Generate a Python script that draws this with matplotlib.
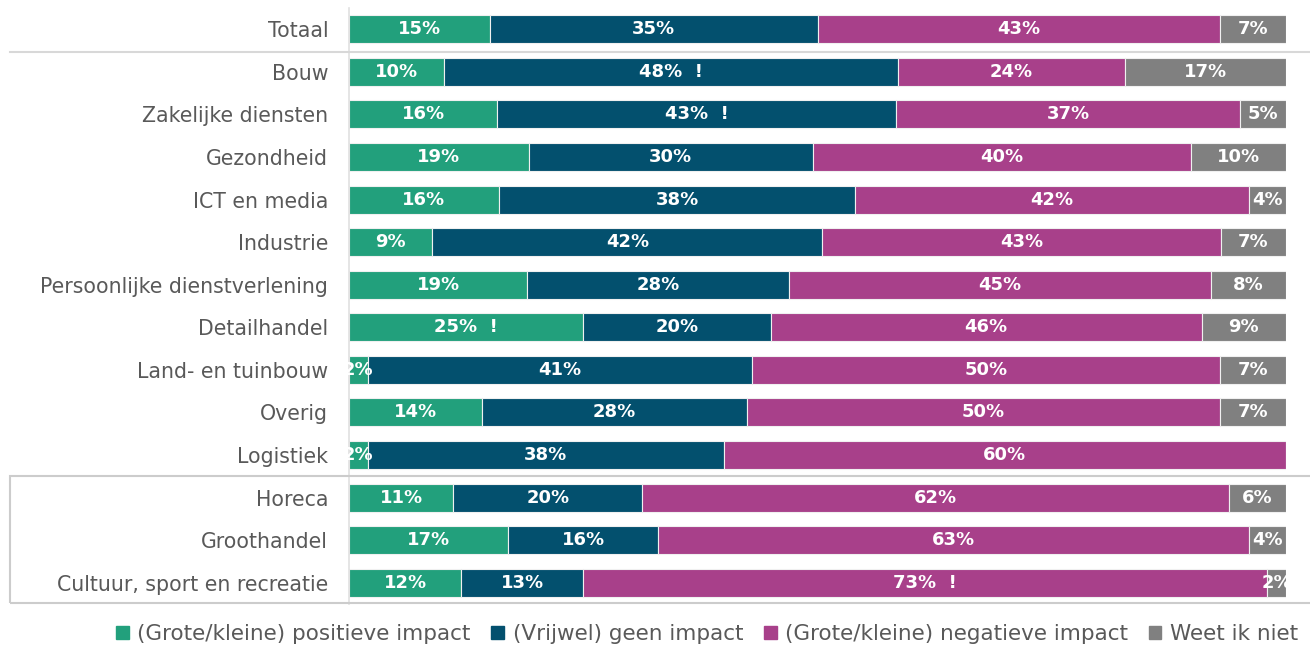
import matplotlib
matplotlib.use("Agg")
import matplotlib.pyplot as plt
from matplotlib.patches import Rectangle
from matplotlib.lines import Line2D
import numpy as np

categories = ["Totaal", "Bouw", "Zakelijke diensten", "Gezondheid", "ICT en media",
              "Industrie", "Persoonlijke dienstverlening", "Detailhandel",
              "Land- en tuinbouw", "Overig", "Logistiek", "Horeca", "Groothandel",
              "Cultuur, sport en recreatie"]
series = ["(Grote/kleine) positieve impact", "(Vrijwel) geen impact",
          "(Grote/kleine) negatieve impact", "Weet ik niet"]
positief = [15, 10, 16, 19, 16, 9, 19, 25, 2, 14, 2, 11, 17, 12]
geen = [35, 48, 43, 30, 38, 42, 28, 20, 41, 28, 38, 20, 16, 13]
negatief = [43, 24, 37, 40, 42, 43, 45, 46, 50, 50, 60, 62, 63, 73]
weet_niet = [7, 17, 5, 10, 4, 7, 8, 9, 7, 7, 0, 6, 4, 2]
# significance markers ("!") per series
flags_geen = [0, 1, 1, 0, 0, 0, 0, 0, 0, 0, 0, 0, 0, 0]
flags_pos = [0, 0, 0, 0, 0, 0, 0, 1, 0, 0, 0, 0, 0, 0]
flags_neg = [0, 0, 0, 0, 0, 0, 0, 0, 0, 0, 0, 0, 0, 1]
flags_weet = [0] * 14

colors = ["#22a07c", "#03506e", "#a8408a", "#808080"]

fig = plt.figure(figsize=(13.10, 6.47), dpi=100)
ax = fig.add_axes([349 / 1310, (647 - 604) / 647, (1286 - 349) / 1310, 596 / 647])

data = np.array([positief, geen, negatief, weet_niet], dtype=float)
flags = [flags_pos, flags_geen, flags_neg, flags_weet]
totals = data.sum(axis=0)
share = data / totals * 100
y = np.arange(len(categories))
left = np.zeros(len(categories))
for i in range(4):
    ax.barh(y, share[i], left=left, height=0.66, color=colors[i],
            edgecolor="#f0f0f0", linewidth=0.8)
    for j in range(len(categories)):
        v = data[i][j]
        if v > 0:
            txt = f"{int(v)}%" + ("  !" if flags[i][j] else "")
            ax.text(left[j] + share[i][j] / 2, y[j], txt, ha="center", va="center",
                    color="white", fontsize=13, fontweight="bold", clip_on=False)
    left += share[i]

ax.set_xlim(0, 100)
ax.set_ylim(len(categories) - 0.5, -0.5)
ax.set_yticks(y)
ax.set_yticklabels(categories, fontsize=14.8, color="#595959")
ax.tick_params(axis="y", length=0, pad=15)
ax.set_xticks([])
for s in ["top", "right", "bottom"]:
    ax.spines[s].set_visible(False)
ax.spines["left"].set_color("#e0e0e0")
ax.spines["left"].set_linewidth(1.2)

# separator under Totaal
fig.add_artist(Line2D([10 / 1310, 1310 / 1310], [(647 - 52) / 647] * 2,
                      color="#d8d8d8", linewidth=1.5, transform=fig.transFigure))
# box around last three rows
fig.add_artist(Rectangle((10 / 1310, (647 - 603) / 647), 1310 / 1310,
                         (603 - 476) / 647, fill=False, edgecolor="#cccccc",
                         linewidth=1.5, transform=fig.transFigure))

handles = [Rectangle((0, 0), 1, 1, color=c) for c in colors]
fig.legend(handles, series, loc="center", bbox_to_anchor=(707 / 1310, (647 - 634) / 647),
           ncol=4, frameon=False, fontsize=15.5, handlelength=0.6, handleheight=0.6,
           handletextpad=0.4, columnspacing=0.95, labelcolor="#595959")

fig.savefig("out.png", dpi=100)
